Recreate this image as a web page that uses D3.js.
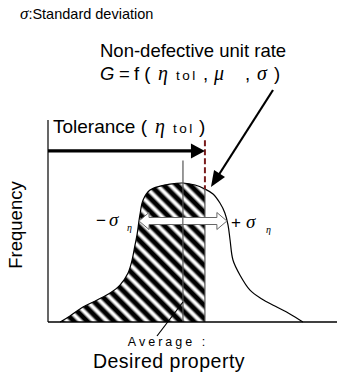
<!DOCTYPE html>
<html>
<head>
<meta charset="utf-8">
<script src="https://cdn.jsdelivr.net/npm/d3@7"></script>
<style>
  html, body { margin: 0; padding: 0; background: #fff; }
  svg { display: block; font-family: "Liberation Sans", Arial, sans-serif; }
  .greek { font-family: "Liberation Serif", "Times New Roman", serif; font-style: italic; }
</style>
</head>
<body>
<div id="chart"></div>
<script>
// distribution of the property (x) and its frequency (y)
const property = [4.2, 4.8, 7.6, 12.1, 17.0, 21.5, 24.9, 27.7, 29.1, 30.1, 30.8, 31.8, 32.9, 35.3, 38.8, 42.2, 46.7,
  50.9, 54.3, 57.1, 59.5, 61.2, 62.3, 63.0, 64.0, 66.4, 69.9, 74.0, 78.5, 83.7, 88.2];
const frequency = [0.0, 0.005, 0.03, 0.074, 0.109, 0.144, 0.183, 0.243, 0.307, 0.381, 0.431, 0.53, 0.604, 0.653, 0.673, 0.683, 0.688,
  0.678, 0.658, 0.634, 0.589, 0.54, 0.48, 0.406, 0.307, 0.233, 0.158, 0.114, 0.079, 0.04, 0.0];

const meanValue = 46.7;
const toleranceValue = 54.3;
const sigmaValue = 15.2;

const width = 337;
const height = 374;

const x = d3.scaleLinear().domain([0, 100]).range([48, 337]);
const y = d3.scaleLinear().domain([0, 1]).range([322, 120]);

const points = property.map((p, i) => ({ p, f: frequency[i] }));

const svg = d3.select("#chart")
  .append("svg")
  .attr("width", width)
  .attr("height", height);

const defs = svg.append("defs");

// soft black/white stripes
const grad = defs.append("linearGradient")
  .attr("id", "stripe-grad")
  .attr("x1", 0).attr("x2", 1).attr("y1", 0).attr("y2", 0);
[[0, "#fff"], [0.22, "#000"], [0.55, "#000"], [0.8, "#fff"], [1, "#fff"]].forEach(([o, c]) => {
  grad.append("stop").attr("offset", o).attr("stop-color", c);
});

const hatch = defs.append("pattern")
  .attr("id", "hatch")
  .attr("patternUnits", "userSpaceOnUse")
  .attr("width", 9.4)
  .attr("height", 20)
  .attr("patternTransform", "rotate(-45)");
hatch.append("rect")
  .attr("width", 9.4)
  .attr("height", 20)
  .attr("fill", "url(#stripe-grad)");

defs.append("clipPath")
  .attr("id", "tol-clip")
  .append("rect")
  .attr("x", 0)
  .attr("y", 0)
  .attr("width", x(toleranceValue))
  .attr("height", y(0));

const area = d3.area()
  .x((d) => x(d.p))
  .y0(y(0))
  .y1((d) => y(d.f))
  .curve(d3.curveCatmullRom.alpha(0.5));

const line = d3.line()
  .x((d) => x(d.p))
  .y((d) => y(d.f))
  .curve(d3.curveCatmullRom.alpha(0.5));

// hatched (non-defective) part
svg.append("path")
  .datum(points)
  .attr("d", area)
  .attr("fill", "url(#hatch)")
  .attr("clip-path", "url(#tol-clip)");

// curve outline
svg.append("path")
  .datum(points)
  .attr("d", line)
  .attr("fill", "none")
  .attr("stroke", "#000")
  .attr("stroke-width", 1.2);

function curveAt(v) {
  for (let i = 1; i < points.length; i++) {
    if (points[i].p >= v) {
      const a = points[i - 1], b = points[i];
      const t = (v - a.p) / (b.p - a.p);
      return a.f + t * (b.f - a.f);
    }
  }
  return 0;
}

// right edge of hatched region
svg.append("line")
  .attr("x1", x(toleranceValue)).attr("x2", x(toleranceValue))
  .attr("y1", y(curveAt(toleranceValue))).attr("y2", y(0))
  .attr("stroke", "#555")
  .attr("stroke-width", 1.2);

// mean line
svg.append("line")
  .attr("x1", x(meanValue)).attr("x2", x(meanValue))
  .attr("y1", y(0.8)).attr("y2", y(0))
  .attr("stroke", "#555")
  .attr("stroke-width", 1.2);

// axes
svg.append("line")
  .attr("x1", x(0)).attr("x2", x(100))
  .attr("y1", y(0)).attr("y2", y(0))
  .attr("stroke", "#000").attr("stroke-width", 1.5);
svg.append("line")
  .attr("x1", x(0)).attr("x2", x(0))
  .attr("y1", y(0)).attr("y2", y(1))
  .attr("stroke", "#000").attr("stroke-width", 1.2);

// tolerance limit (dashed)
svg.append("line")
  .attr("x1", x(toleranceValue)).attr("x2", x(toleranceValue))
  .attr("y1", y(0.9)).attr("y2", y(curveAt(toleranceValue)))
  .attr("stroke", "#7a1c1c")
  .attr("stroke-width", 2)
  .attr("stroke-dasharray", "6,3");

// tolerance arrow
const tolY = y(0.847);
const tolTip = x(toleranceValue);
svg.append("line")
  .attr("x1", x(0)).attr("x2", tolTip - 12)
  .attr("y1", tolY).attr("y2", tolY)
  .attr("stroke", "#000").attr("stroke-width", 3.2);
svg.append("path")
  .attr("d", `M${tolTip},${tolY} L${tolTip - 14},${tolY - 7.5} L${tolTip - 14},${tolY + 7.5} Z`)
  .attr("fill", "#000");

// sigma block arrows
function blockArrow(x0, x1, yc) {
  const dir = Math.sign(x1 - x0);
  const headLen = 10, shaft = 3.5, head = 8.5;
  const hb = x1 - dir * headLen;
  return `M${x0},${yc - shaft} L${hb},${yc - shaft} L${hb},${yc - head} L${x1},${yc} ` +
    `L${hb},${yc + head} L${hb},${yc + shaft} L${x0},${yc + shaft} Z`;
}
const sigY = y(0.5);
svg.append("path")
  .attr("d", blockArrow(x(meanValue), x(meanValue - sigmaValue), sigY))
  .attr("fill", "#fff").attr("stroke", "#666").attr("stroke-width", 1);
svg.append("path")
  .attr("d", blockArrow(x(meanValue), x(meanValue + sigmaValue), sigY))
  .attr("fill", "#fff").attr("stroke", "#666").attr("stroke-width", 1);

// pointer to curve
const ptrEnd = [x(toleranceValue) + 6, y(curveAt(toleranceValue)) - 2];
const ptrStart = [273, 90];
const ang = Math.atan2(ptrEnd[1] - ptrStart[1], ptrEnd[0] - ptrStart[0]);
const back = (d, s) => [ptrEnd[0] - d * Math.cos(ang) + s * Math.sin(ang), ptrEnd[1] - d * Math.sin(ang) - s * Math.cos(ang)];
const b1 = back(16, 6.5), b2 = back(16, -6.5), bm = back(12, 0);
svg.append("line")
  .attr("x1", ptrStart[0]).attr("y1", ptrStart[1])
  .attr("x2", bm[0]).attr("y2", bm[1])
  .attr("stroke", "#000").attr("stroke-width", 2.2);
svg.append("path")
  .attr("d", `M${ptrEnd[0]},${ptrEnd[1]} L${b1[0]},${b1[1]} L${b2[0]},${b2[1]} Z`)
  .attr("fill", "#000");

// pointer to average
svg.append("line")
  .attr("x1", x(meanValue)).attr("y1", 302)
  .attr("x2", 157).attr("y2", 336)
  .attr("stroke", "#000").attr("stroke-width", 1.2);

// texts
const t1 = svg.append("text").attr("x", 20).attr("y", 19).attr("font-size", 14.5);
t1.append("tspan").attr("class", "greek").attr("font-size", 17).text("σ");
t1.append("tspan").text(":Standard deviation");

svg.append("text").attr("x", 100).attr("y", 57).attr("font-size", 18.5).text("Non-defective unit rate");

const g = svg.append("text").attr("y", 80).attr("font-size", 18.5);
g.append("tspan").attr("x", 100).attr("font-style", "italic").text("G");
g.append("tspan").attr("x", 119).text("=");
g.append("tspan").attr("x", 134).text("f (");
g.append("tspan").attr("x", 158).attr("class", "greek").attr("font-size", 20).text("η");
g.append("tspan").attr("x", 176).attr("font-size", 13.5).attr("letter-spacing", 2.5).text("tol");
g.append("tspan").attr("x", 203).text(",");
g.append("tspan").attr("x", 214).attr("class", "greek").attr("font-size", 20).text("μ");
g.append("tspan").attr("x", 245).text(",");
g.append("tspan").attr("x", 257).attr("class", "greek").attr("font-size", 20).text("σ");
g.append("tspan").attr("x", 274).text(")");

const tol = svg.append("text").attr("y", 133).attr("font-size", 19);
tol.append("tspan").attr("x", 53).text("Tolerance (");
tol.append("tspan").attr("x", 155).attr("class", "greek").attr("font-size", 20).text("η");
tol.append("tspan").attr("x", 173).attr("font-size", 13.5).attr("letter-spacing", 2.5).text("tol");
tol.append("tspan").attr("x", 199).text(")");

svg.append("text")
  .attr("transform", "translate(22,225) rotate(-90)")
  .attr("text-anchor", "middle")
  .attr("font-size", 18.5)
  .text("Frequency");

const ms = svg.append("text").attr("y", 226).attr("font-size", 17);
ms.append("tspan").attr("x", 96).text("−");
ms.append("tspan").attr("x", 109).attr("class", "greek").attr("font-size", 19).text("σ");
ms.append("tspan").attr("x", 127).attr("y", 231).attr("class", "greek").attr("font-size", 10).text("η");

const ps = svg.append("text").attr("y", 228).attr("font-size", 17);
ps.append("tspan").attr("x", 231).text("+");
ps.append("tspan").attr("x", 246).attr("class", "greek").attr("font-size", 19).text("σ");
ps.append("tspan").attr("x", 266).attr("y", 233).attr("class", "greek").attr("font-size", 10).text("η");

svg.append("text")
  .attr("x", 168).attr("y", 346)
  .attr("text-anchor", "middle")
  .attr("font-size", 12.5)
  .attr("letter-spacing", 3)
  .text("Average :");

svg.append("text")
  .attr("x", 169).attr("y", 368)
  .attr("text-anchor", "middle")
  .attr("font-size", 19.5)
  .attr("letter-spacing", 0.5)
  .text("Desired property");
</script>
</body>
</html>
